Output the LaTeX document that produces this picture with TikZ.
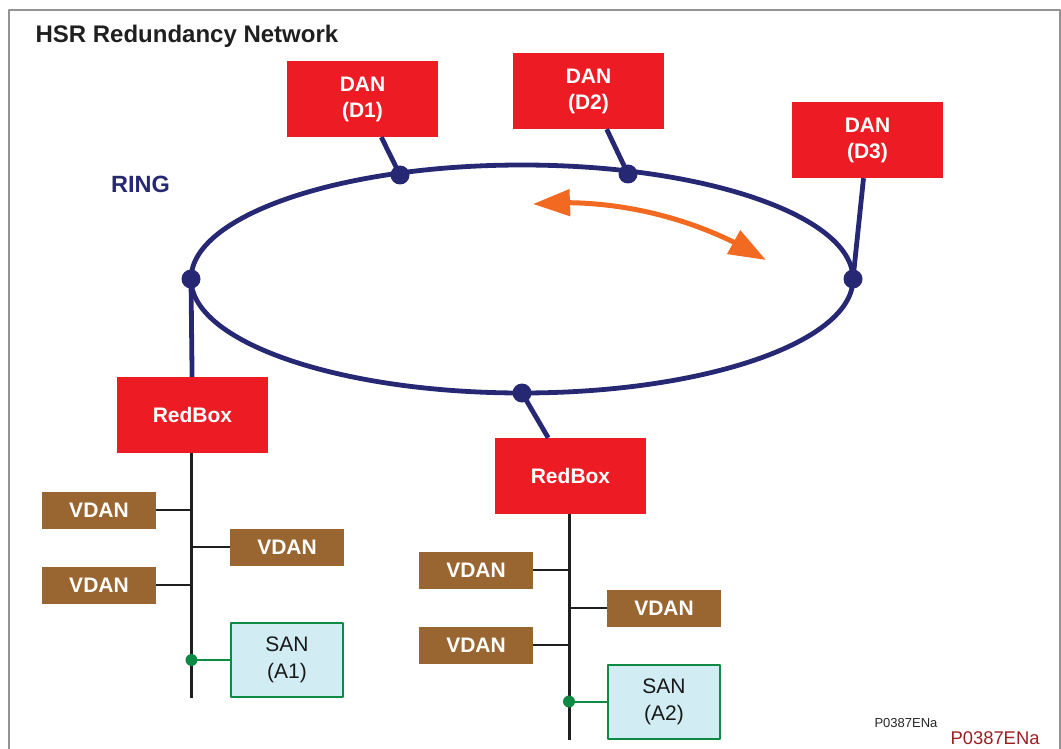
\documentclass[tikz,border=0pt]{standalone}
\usepackage{fontspec}
\setmainfont{Liberation Sans}
\usetikzlibrary{arrows.meta,bending}
\definecolor{hsrred}{HTML}{ED1C24}
\definecolor{vdanbrown}{HTML}{996530}
\definecolor{ringblue}{HTML}{262873}
\definecolor{flowarrow}{HTML}{F26A22}
\definecolor{sanfill}{HTML}{D1ECF2}
\definecolor{sangreen}{HTML}{0E8A45}
\definecolor{framegray}{HTML}{939393}
\definecolor{figcode}{HTML}{9C1F24}

\begin{document}
\begin{tikzpicture}[
  x=1pt,
  y=-1pt,
  line join=round,
  dev/.style={fill=hsrred,text=white,font=\fontsize{21}{26}\selectfont\bfseries,align=center,
    minimum width=151pt,minimum height=76pt,inner sep=0pt},
  vdan/.style={fill=vdanbrown,text=white,font=\fontsize{21}{26}\selectfont\bfseries,
    minimum width=114pt,minimum height=37pt,inner sep=0pt},
  san/.style={fill=sanfill,draw=sangreen,line width=2pt,text=black!90,align=center,
    font=\fontsize{21}{27}\selectfont,minimum width=112pt,minimum height=74pt,inner sep=0pt},
  ring/.style={draw=ringblue,line width=4.8pt},
  bus/.style={draw=black!88,line width=3pt},
  branch/.style={draw=black!88,line width=1.8pt},
  sanlink/.style={draw=sangreen,line width=2pt},
  flow/.style={draw=flowarrow,line width=5pt,{Triangle[length=37pt,width=26pt]}-{Triangle[length=37pt,width=26pt]}}
]
  \useasboundingbox (0,0) rectangle (1061,749);
  \draw[framegray,line width=2.2pt] (9,749) |- (1060,10) -- (1060,749);

  \node[anchor=base west,font=\fontsize{24}{28}\selectfont\bfseries,text=black!88] (title) at (32,42.5) {HSR Redundancy Network};
  \node[anchor=base west,font=\fontsize{23.5}{28}\selectfont\bfseries,text=ringblue] (ringlabel) at (107.5,192.5) {RING};

  % The ring and its attachment points.
  \coordinate (ringc) at (522,279);
  \draw[ring] (ringc) ellipse [x radius=331pt,y radius=114pt];
  \coordinate (p1) at (400,175);
  \coordinate (p2) at (628,174);
  \coordinate (p3) at (853,279);
  \coordinate (p4) at (191,279);
  \coordinate (p5) at (522,393);

  % Doubly attached nodes on the ring.
  \node[dev] (d1) at (362.5,99) {DAN\\(D1)};
  \node[dev] (d2) at (588.5,91) {DAN\\(D2)};
  \node[dev] (d3) at (867.5,140) {DAN\\(D3)};
  \node[dev] (rb1) at (192.5,415) {RedBox};
  \node[dev] (rb2) at (570.5,476) {RedBox};

  \draw[ring] (p1) -- (d1);
  \draw[ring] (p2) -- (d2);
  \draw[ring] (p3) -- (d3);
  \draw[ring] (p4) -- (rb1);
  \draw[ring] (p5) -- (rb2);
  \foreach \p in {p1,p2,p3,p4,p5} {
    \fill[ringblue] (\p) circle[radius=9.5pt];
  }

  % Traffic in both directions.
  \coordinate (fl) at (533,204);
  \coordinate (fr) at (766,260);
  \draw[flow] (fl) .. controls (613,197) and (698,217.7) .. (fr);

  % Left RedBox segment.
  \coordinate (b1top) at (191.5,453);
  \coordinate (b1end) at (191.5,698);
  \node[vdan] (va1) at (99,510) {VDAN};
  \node[vdan] (vb1) at (287,547) {VDAN};
  \node[vdan] (vc1) at (99,585) {VDAN};
  \node[san] (san1) at (287,660) {SAN\\(A1)};
  \draw[bus] (b1top) -- (b1end);
  \draw[branch] (va1.east) -- (va1.east -| b1top);
  \draw[branch] (vb1.west) -- (vb1.west -| b1top);
  \draw[branch] (vc1.east) -- (vc1.east -| b1top);
  \draw[sanlink] (san1.west) -- (san1.west -| b1top);
  \fill[sangreen] (san1.west -| b1top) circle[radius=6pt];

  % Right RedBox segment.
  \coordinate (b2top) at (569,514);
  \coordinate (b2end) at (569,739.5);
  \node[vdan] (va2) at (476,570) {VDAN};
  \node[vdan] (vb2) at (664,608) {VDAN};
  \node[vdan] (vc2) at (476,645) {VDAN};
  \node[san] (san2) at (664,701.5) {SAN\\(A2)};
  \draw[bus] (b2top) -- (b2end);
  \draw[branch] (va2.east) -- (va2.east -| b2top);
  \draw[branch] (vb2.west) -- (vb2.west -| b2top);
  \draw[branch] (vc2.east) -- (vc2.east -| b2top);
  \draw[sanlink] (san2.west) -- (san2.west -| b2top);
  \fill[sangreen] (san2.west -| b2top) circle[radius=6pt];

  \node[anchor=base west,font=\fontsize{13}{15}\selectfont,text=black!85] (code) at (871,727.3) {P0387ENa};
  \node[anchor=base west,font=\fontsize{18.4}{22}\selectfont,text=figcode] (codebig) at (947,744) {P0387ENa};
\end{tikzpicture}
\end{document}
